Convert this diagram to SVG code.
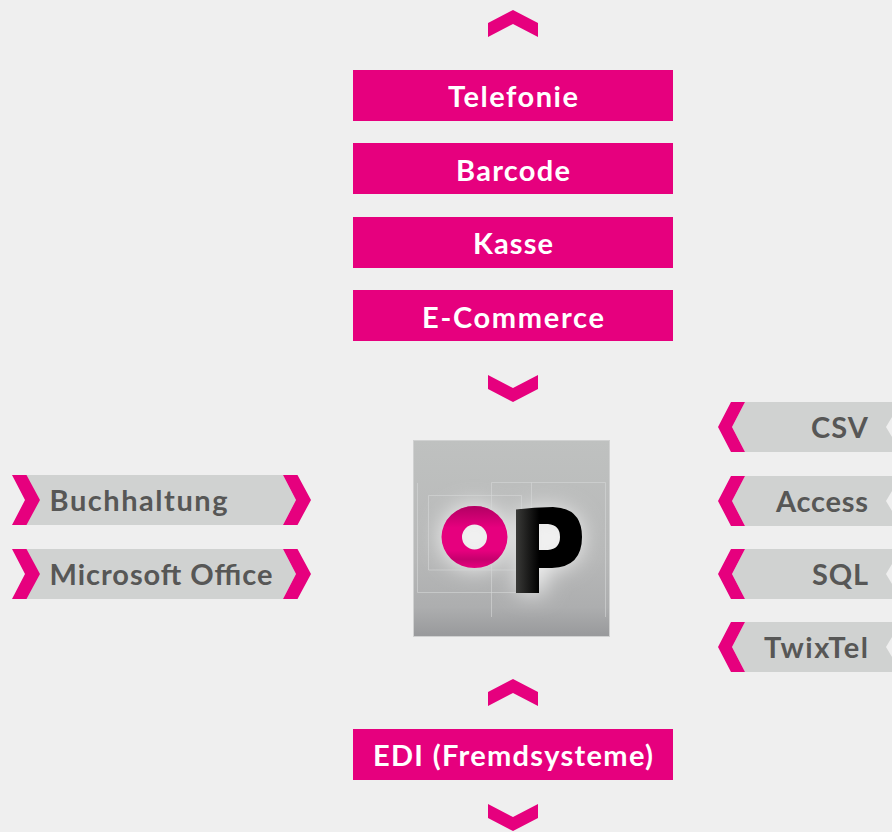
<svg xmlns="http://www.w3.org/2000/svg" width="892" height="832" viewBox="0 0 892 832">
<style>
.p{fill:#e6007e}
.g{fill:#d0d2d1}
.w{font:700 29px Lato,"Open Sans",sans-serif;fill:#fff;text-anchor:middle}
.d{font:700 29px Lato,"Open Sans",sans-serif;fill:#575756}
.e{text-anchor:end}
.l{fill:none;stroke:#d6d7d7;stroke-width:1;stroke-opacity:.6}
</style>
<defs>
<path id="up" d="M0 13L25 0L50 13V27L25 14L0 27Z"/>
<path id="dn" d="M0 0L25 13L50 0V14L25 27L0 14Z"/>
<path id="lt" d="M12 0H26.500L40 25L26.500 50H12L25 25Z"/>
<path id="rc" d="M13 0H27L14 25L27 50H13L0 25Z"/>
<linearGradient id="bg" x1="0" y1="0" x2="0" y2="1"><stop offset="0" stop-color="#bfc1c0"/><stop offset=".6" stop-color="#b7b8b8"/><stop offset=".85" stop-color="#adaeaf"/><stop offset="1" stop-color="#98999b"/></linearGradient>
<linearGradient id="ot" x1="0" y1="0" x2="0" y2="1"><stop offset="0" stop-color="#a0005a" stop-opacity=".75"/><stop offset=".35" stop-color="#a0005a" stop-opacity="0"/><stop offset=".72" stop-color="#a0005a" stop-opacity="0"/><stop offset=".86" stop-color="#a0005a" stop-opacity=".45"/><stop offset="1" stop-color="#a0005a" stop-opacity="0"/></linearGradient>
<linearGradient id="ps" x1="0" y1="0" x2="1" y2="0"><stop offset="0" stop-color="#3a3a38"/><stop offset=".35" stop-color="#000"/></linearGradient>
<filter id="b" x="-50%" y="-50%" width="200%" height="200%"><feGaussianBlur stdDeviation="11"/></filter>
</defs>
<rect width="892" height="832" fill="#efefef"/>
<g id="connectors" class="p">
<use href="#up" x="488" y="10"/>
<use href="#dn" x="488" y="375"/>
<use href="#up" x="488" y="679"/>
<use href="#dn" x="488" y="804"/>
</g>
<g id="telefonie"><rect class="p" x="353" y="70" width="320" height="51"/><text class="w" x="513" y="107" textLength="130">Telefonie</text></g>
<g id="barcode"><rect class="p" x="353" y="143" width="320" height="51"/><text class="w" x="513" y="181" textLength="114">Barcode</text></g>
<g id="kasse"><rect class="p" x="353" y="217" width="320" height="51"/><text class="w" x="513" y="254" textLength="80">Kasse</text></g>
<g id="ecommerce"><rect class="p" x="353" y="290" width="320" height="51"/><text class="w" x="513" y="328" textLength="182">E-Commerce</text></g>
<g id="edi"><rect class="p" x="353" y="729" width="320" height="51"/><text class="w" x="513" y="766" textLength="280">EDI (Fremdsysteme)</text></g>
<g id="logo">
<rect x="413.500" y="440.500" width="196" height="196" fill="url(#bg)" stroke="#d0d1d1"/>
<g filter="url(#b)" fill="#f0f0f0"><ellipse cx="474.500" cy="537" rx="34" ry="32"/><path d="M518 510L550 508Q582 510 582 538Q582 568 545 570V593H518Z"/></g>
<path class="l" d="M417.500 483V592.500H516M428.500 570V495.500H521.500V570H428.500M491.500 617V482.500H605.500V617M531.500 482.500V509"/>
<g fill-rule="evenodd"><path class="p" d="M441.500 537a33 31 0 1 0 66 0a33 31 0 1 0 -66 0ZM462 537a12.500 12.500 0 1 0 25 0a12.500 12.500 0 1 0 -25 0Z"/>
<path fill="url(#ot)" d="M441.500 537a33 31 0 1 0 66 0a33 31 0 1 0 -66 0ZM462 537a12.500 12.500 0 1 0 25 0a12.500 12.500 0 1 0 -25 0Z"/>
<path fill="url(#ps)" d="M516 509.500Q534 507 553 507Q582 508 582 537Q582 567 552 568H539V593H516ZM539 524V550H548Q560 549 560 537Q560 525 548 524Z"/></g>
</g>
<g id="buchhaltung"><path class="g" d="M26 475H283L296 500L283 525H26L39.500 500Z"/><use class="p" href="#lt" y="475"/><use class="p" href="#lt" x="271" y="475"/><text class="d" x="49.500" y="511" textLength="178">Buchhaltung</text></g>
<g id="office"><path class="g" d="M26 549H283L296 574L283 599H26L39.500 574Z"/><use class="p" href="#lt" y="549"/><use class="p" href="#lt" x="271" y="549"/><text class="d" x="49.500" y="585" textLength="223">Microsoft Office</text></g>
<g id="csv"><path class="g" d="M745 402H892V417L886 427L892 437V452H745L732 427Z"/><use class="p" href="#rc" x="718" y="402"/><text class="d e" x="868" y="438" textLength="57">CSV</text></g>
<g id="access"><path class="g" d="M745 476H892V491L886 501L892 511V526H745L732 501Z"/><use class="p" href="#rc" x="718" y="476"/><text class="d e" x="868" y="512" textLength="92">Access</text></g>
<g id="sql"><path class="g" d="M745 549H892V564L886 574L892 584V599H745L732 574Z"/><use class="p" href="#rc" x="718" y="549"/><text class="d e" x="868" y="585" textLength="56">SQL</text></g>
<g id="twixtel"><path class="g" d="M745 622H892V637L886 647L892 657V672H745L732 647Z"/><use class="p" href="#rc" x="718" y="622"/><text class="d e" x="868" y="658" textLength="104">TwixTel</text></g>
</svg>
